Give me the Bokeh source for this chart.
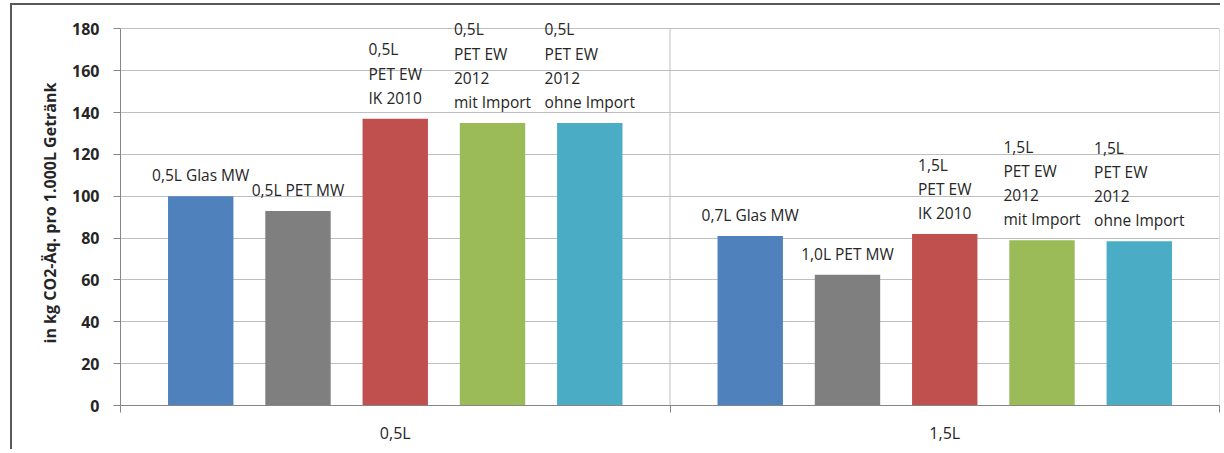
from bokeh.plotting import figure
from bokeh.models import Range1d, FixedTicker, ColumnDataSource, LabelSet
from bokeh.core.properties import value
from bokeh.embed import file_html
from bokeh.resources import INLINE

groups = ["0,5L", "1,5L"]
series = ["Glas MW", "PET MW", "PET EW IK 2010", "PET EW 2012 mit Import", "PET EW 2012 ohne Import"]
colors = ["#4F81BD", "#7F7F7F", "#C0504D", "#9BBB59", "#4BACC6"]
labels_05 = ["0,5L Glas MW", "0,5L PET MW", "0,5L\nPET EW\nIK 2010",
             "0,5L\nPET EW\n2012\nmit Import", "0,5L\nPET EW\n2012\nohne Import"]
labels_15 = ["0,7L Glas MW", "1,0L PET MW", "1,5L\nPET EW\nIK 2010",
             "1,5L\nPET EW\n2012\nmit Import", "1,5L\nPET EW\n2012\nohne Import"]
values_05 = [100, 93, 137, 135, 135]
values_15 = [81, 62.5, 82, 79, 78.5]
y_ticks = [0, 20, 40, 60, 80, 100, 120, 140, 160, 180]
y_max = 180
y_title = "in kg CO2-Äq. pro 1.000L Getränk"

SPACING = 0.177
BAR_W = 0.119

# a little head-room above the 180 gridline so that the bar labels are not clipped
p = figure(width=1210, height=446, output_backend="svg", toolbar_location=None,
           x_range=Range1d(0, 2), y_range=Range1d(0, y_max + 4),
           min_border_left=108, min_border_right=3, min_border_top=15, min_border_bottom=46)
p.styles = {"margin-left": "10px", "margin-top": "3px",
            "border-left": "2px solid #595959", "border-top": "2px solid #595959"}
p.outline_line_color = None
p.background_fill_color = "white"
p.border_fill_color = "white"

xs, tops, texts, cols = [], [], [], []
for gi, (vals, labs) in enumerate([(values_05, labels_05), (values_15, labels_15)]):
    for i, (v, t) in enumerate(zip(vals, labs)):
        xs.append(gi + 0.5 + (i - 2) * SPACING)
        tops.append(v)
        texts.append(t)
        cols.append(colors[i])
src = ColumnDataSource(dict(x=xs, top=tops, text=texts, color=cols))

# grid
p.ygrid.ticker = FixedTicker(ticks=y_ticks)
p.ygrid.grid_line_color = "#BFBFBF"
p.ygrid.grid_line_width = 1
p.xgrid.grid_line_color = None
boundaries = [1, 2]
p.segment(x0=boundaries, x1=boundaries, y0=[0, 0], y1=[y_max, y_max],
          line_color="#BFBFBF", line_width=1)

p.vbar(x="x", top="top", width=BAR_W, bottom=0, fill_color="color", line_color=None, source=src)

labels = LabelSet(x="x", y="top", text="text", source=src, text_align="center",
                  text_baseline="bottom", y_offset=10, text_font=value("Open Sans"),
                  text_font_size=value("15.5px"), text_color=value("#262626"),
                  text_line_height=value(1.1))
p.add_layout(labels)

# y axis
p.yaxis.ticker = FixedTicker(ticks=y_ticks)
p.yaxis.bounds = (0, y_max)
p.yaxis.axis_line_color = "#868686"
p.yaxis.major_tick_line_color = "#868686"
p.yaxis.major_tick_out = 7
p.yaxis.major_tick_in = 0
p.yaxis.minor_tick_line_color = None
p.yaxis.major_label_text_font = "Open Sans"
p.yaxis.major_label_text_font_size = "16px"
p.yaxis.major_label_text_font_style = "bold"
p.yaxis.major_label_text_color = "#262626"
p.yaxis.major_label_standoff = 14
p.yaxis.axis_label = y_title
p.yaxis.axis_label_text_font = "Open Sans"
p.yaxis.axis_label_text_font_size = "16px"
p.yaxis.axis_label_text_font_style = "bold"
p.yaxis.axis_label_text_color = "#262626"
p.yaxis.axis_label_standoff = 8

# x axis
p.xaxis.ticker = FixedTicker(ticks=[0.5, 1.5], minor_ticks=[0, 1, 2])
p.xaxis.major_label_overrides = {0.5: groups[0], 1.5: groups[1]}
p.xaxis.axis_line_color = "#868686"
p.xaxis.major_tick_line_color = None
p.xaxis.minor_tick_line_color = "#868686"
p.xaxis.minor_tick_out = 7
p.xaxis.minor_tick_in = 0
p.xaxis.major_label_standoff = 9
p.xaxis.major_label_text_font = "Open Sans"
p.xaxis.major_label_text_font_size = "16px"
p.xaxis.major_label_text_font_style = "normal"
p.xaxis.major_label_text_color = "#262626"

open("out.html", "w").write(file_html(p, INLINE))
